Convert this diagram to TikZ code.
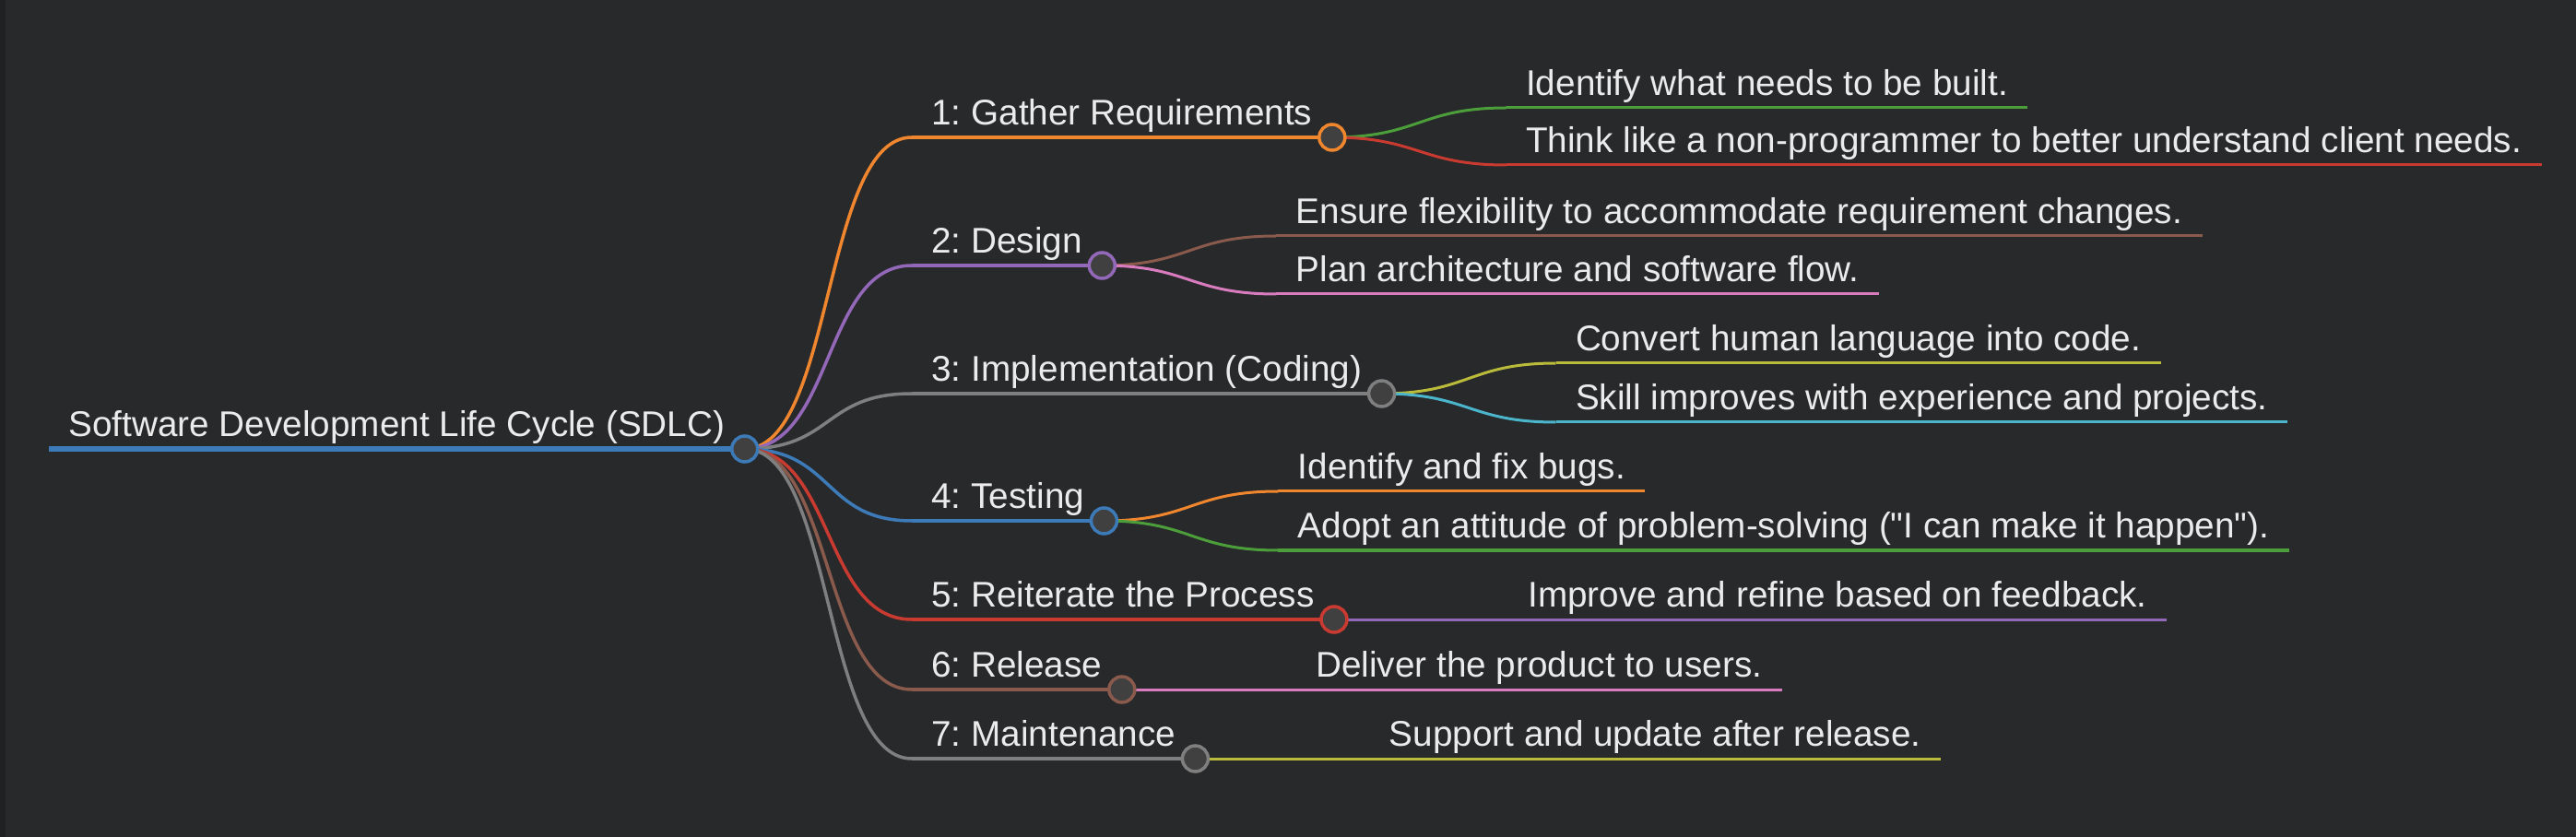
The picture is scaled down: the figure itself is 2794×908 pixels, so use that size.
\documentclass[tikz,border=0pt]{standalone}
\usepackage{fontspec}
\setmainfont{Liberation Sans}
\usetikzlibrary{calc}
\frenchspacing
\definecolor{bg}{HTML}{28292B}
\definecolor{edgebar}{HTML}{202122}
\definecolor{txt}{HTML}{EBEBEB}
\definecolor{knobfill}{HTML}{404040}
\definecolor{mmblue}{HTML}{3D7AB8}
\definecolor{mmorange}{HTML}{F0872F}
\definecolor{mmgreen}{HTML}{4C9E3B}
\definecolor{mmred}{HTML}{C93A31}
\definecolor{mmpurple}{HTML}{9368B9}
\definecolor{mmbrown}{HTML}{8A5A4D}
\definecolor{mmpink}{HTML}{D97CBF}
\definecolor{mmgray}{HTML}{7F7F7F}
\definecolor{mmolive}{HTML}{BABB3A}
\definecolor{mmcyan}{HTML}{4AB5CB}

\begin{document}
\begin{tikzpicture}[x=0.5pt, y=-0.5pt,
        topic/.style={anchor=south west, inner xsep=10.5pt, inner ysep=6.5pt, text depth=0pt, text=txt, font=\fontsize{19.35}{23}\selectfont},
        rootline/.style={line width=3pt},
        stem/.style={line width=1.75pt},
        twig/.style={line width=1.5pt},
        knob/.style={draw=#1, fill=knobfill, line width=1.75pt}]

                \fill[bg] (0,0) rectangle (2794,908);
                \fill[edgebar] (0,0) rectangle (6,908);
                \useasboundingbox (0,0) rectangle (2794,908);

                \node[topic] (sdlc) at (53,487) {Software Development Life Cycle (SDLC)};

                \node[topic] (req) at (989,149) {1: Gather Requirements};
                \node[topic] (design) at (989,288) {2: Design};
                \node[topic] (impl) at (989,427) {3: Implementation (Coding)};
                \node[topic] (test) at (989,565) {4: Testing};
                \node[topic] (iter) at (989,672) {5: Reiterate the Process};
                \node[topic] (rel) at (989,748) {6: Release};
                \node[topic] (maint) at (989,823) {7: Maintenance};

                \node[topic] (req-a) at ($(req.south east |- 0,117)+(189,0)$) {Identify what needs to be built.};
                \node[topic] (req-b) at ($(req.south east |- 0,179)+(189,0)$) {Think like a non-programmer to better understand client needs.};
                \node[topic] (design-a) at ($(design.south east |- 0,256)+(189,0)$) {Ensure flexibility to accommodate requirement changes.};
                \node[topic] (design-b) at ($(design.south east |- 0,319)+(189,0)$) {Plan architecture and software flow.};
                \node[topic] (impl-a) at ($(impl.south east |- 0,394)+(189,0)$) {Convert human language into code.};
                \node[topic] (impl-b) at ($(impl.south east |- 0,458)+(189,0)$) {Skill improves with experience and projects.};
                \node[topic] (test-a) at ($(test.south east |- 0,533)+(189,0)$) {Identify and fix bugs.};
                \node[topic] (test-b) at ($(test.south east |- 0,597)+(189,0)$) {Adopt an attitude of problem-solving (\textquotedbl I can make it happen\textquotedbl).};
                \node[topic] (iter-a) at ($(iter.south east)+(189,0)$) {Improve and refine based on feedback.};
                \node[topic] (rel-a) at ($(rel.south east)+(189,0)$) {Deliver the product to users.};
                \node[topic] (maint-a) at ($(maint.south east)+(189,0)$) {Support and update after release.};

                % links from the root
                \draw[stem, mmorange] (sdlc.south east) .. controls +(97,0) and +(-97,0) .. (req.south west);
                \draw[stem, mmpurple] (sdlc.south east) .. controls +(97,0) and +(-97,0) .. (design.south west);
                \draw[stem, mmgray] (sdlc.south east) .. controls +(97,0) and +(-97,0) .. (impl.south west);
                \draw[stem, mmblue] (sdlc.south east) .. controls +(97,0) and +(-97,0) .. (test.south west);
                \draw[stem, mmred] (sdlc.south east) .. controls +(97,0) and +(-97,0) .. (iter.south west);
                \draw[stem, mmbrown] (sdlc.south east) .. controls +(97,0) and +(-97,0) .. (rel.south west);
                \draw[stem, mmgray] (sdlc.south east) .. controls +(97,0) and +(-97,0) .. (maint.south west);

                % links to the leaves
                \draw[twig, mmgreen] (req.south east) .. controls +(94.5,0) and +(-94.5,0) .. (req-a.south west);
                \draw[twig, mmred] (req.south east) .. controls +(94.5,0) and +(-94.5,0) .. (req-b.south west);
                \draw[twig, mmbrown] (design.south east) .. controls +(94.5,0) and +(-94.5,0) .. (design-a.south west);
                \draw[twig, mmpink] (design.south east) .. controls +(94.5,0) and +(-94.5,0) .. (design-b.south west);
                \draw[twig, mmolive] (impl.south east) .. controls +(94.5,0) and +(-94.5,0) .. (impl-a.south west);
                \draw[twig, mmcyan] (impl.south east) .. controls +(94.5,0) and +(-94.5,0) .. (impl-b.south west);
                \draw[twig, mmorange] (test.south east) .. controls +(94.5,0) and +(-94.5,0) .. (test-a.south west);
                \draw[twig, mmgreen] (test.south east) .. controls +(94.5,0) and +(-94.5,0) .. (test-b.south west);
                \draw[twig, mmpurple] (iter.south east) -- (iter-a.south west);
                \draw[twig, mmpink] (rel.south east) -- (rel-a.south west);
                \draw[twig, mmolive] (maint.south east) -- (maint-a.south west);

                % underlines
                \draw[rootline, mmblue] (sdlc.south west) -- (sdlc.south east);
                \draw[stem, mmorange] (req.south west) -- (req.south east);
                \draw[stem, mmpurple] (design.south west) -- (design.south east);
                \draw[stem, mmgray] (impl.south west) -- (impl.south east);
                \draw[stem, mmblue] (test.south west) -- (test.south east);
                \draw[stem, mmred] (iter.south west) -- (iter.south east);
                \draw[stem, mmbrown] (rel.south west) -- (rel.south east);
                \draw[stem, mmgray] (maint.south west) -- (maint.south east);
                \draw[twig, mmgreen] (req-a.south west) -- (req-a.south east);
                \draw[twig, mmred] (req-b.south west) -- (req-b.south east);
                \draw[twig, mmbrown] (design-a.south west) -- (design-a.south east);
                \draw[twig, mmpink] (design-b.south west) -- (design-b.south east);
                \draw[twig, mmolive] (impl-a.south west) -- (impl-a.south east);
                \draw[twig, mmcyan] (impl-b.south west) -- (impl-b.south east);
                \draw[twig, mmorange] (test-a.south west) -- (test-a.south east);
                \draw[twig, mmgreen] (test-b.south west) -- (test-b.south east);
                \draw[twig, mmpurple] (iter-a.south west) -- (iter-a.south east);
                \draw[twig, mmpink] (rel-a.south west) -- (rel-a.south east);
                \draw[twig, mmolive] (maint-a.south west) -- (maint-a.south east);

                % knobs
                \draw[knob=mmblue] (sdlc.south east) circle[radius=7pt];
                \draw[knob=mmorange] (req.south east) circle[radius=7pt];
                \draw[knob=mmpurple] (design.south east) circle[radius=7pt];
                \draw[knob=mmgray] (impl.south east) circle[radius=7pt];
                \draw[knob=mmblue] (test.south east) circle[radius=7pt];
                \draw[knob=mmred] (iter.south east) circle[radius=7pt];
                \draw[knob=mmbrown] (rel.south east) circle[radius=7pt];
                \draw[knob=mmgray] (maint.south east) circle[radius=7pt];

\end{tikzpicture}
\end{document}
